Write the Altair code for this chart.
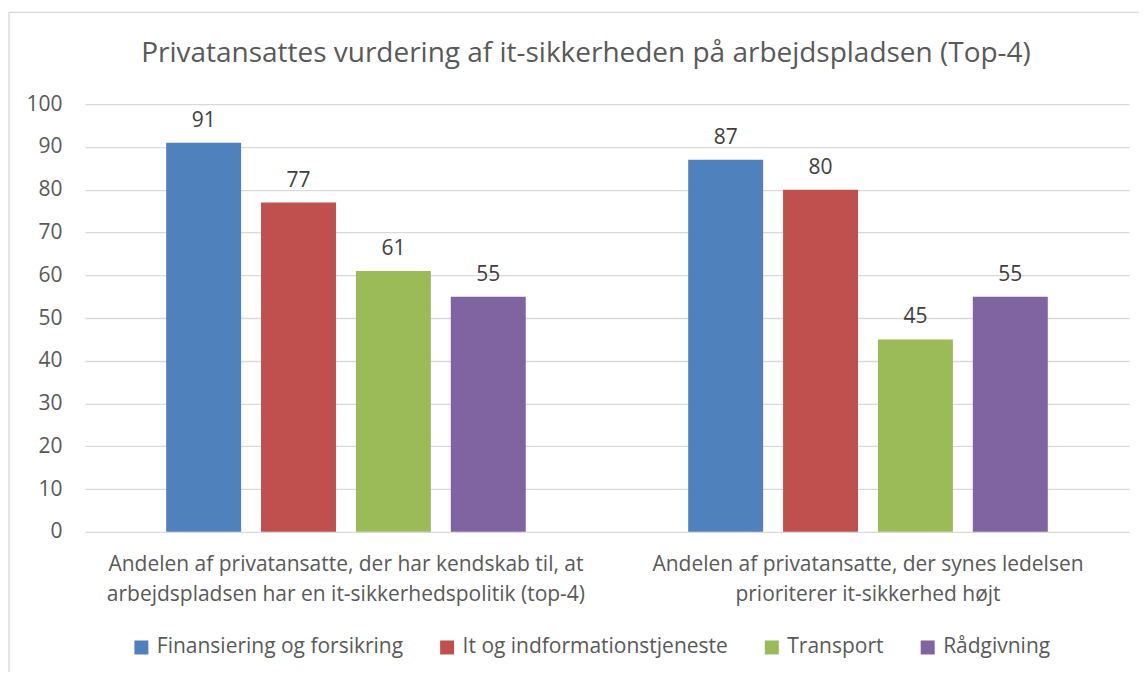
import altair as alt
import pandas as pd

categories = [
    "Andelen af privatansatte, der har kendskab til, at|arbejdspladsen har en it-sikkerhedspolitik (top-4)",
    "Andelen af privatansatte, der synes ledelsen|prioriterer it-sikkerhed højt",
]
series = ["Finansiering og forsikring", "It og indformationstjeneste", "Transport", "Rådgivning"]
values_cat1 = [91, 77, 61, 55]
values_cat2 = [87, 80, 45, 55]
colors = ["#4F81BD", "#C0504D", "#9BBB59", "#8064A2"]
y_ticks = [0, 10, 20, 30, 40, 50, 60, 70, 80, 90, 100]
title_text = ["Privatansattes vurdering af it-sikkerheden på arbejdspladsen (Top-4)"]

rows = []
for s, v in zip(series, values_cat1):
    rows.append({"cat": categories[0], "series": s, "value": v})
for s, v in zip(series, values_cat2):
    rows.append({"cat": categories[1], "series": s, "value": v})
df = pd.DataFrame(rows)

FONT = "Open Sans"
FS = 21
W, H = 1045, 428

x_enc = alt.X("cat:N", sort=categories,
              scale=alt.Scale(paddingInner=0.273, paddingOuter=0.1365),
              axis=alt.Axis(title=None, labelAngle=0, labelExpr="split(datum.label, '|')",
                            labelFontSize=FS, labelColor="#595959", labelFont=FONT,
                            labelLineHeight=30, labelPadding=22, ticks=False, domain=False,
                            labelLimit=700))
xoff = alt.XOffset("series:N", sort=series,
                   scale=alt.Scale(paddingInner=0.21, paddingOuter=0.105))

base = alt.Chart(df)

bars = base.mark_bar().encode(
    x=x_enc,
    xOffset=xoff,
    y=alt.Y("value:Q", scale=alt.Scale(domain=[0, 100], nice=False),
            axis=alt.Axis(title=None, values=y_ticks, grid=True, gridColor="#d9d9d9",
                          gridWidth=1.3, domain=False, ticks=False, labelFontSize=FS,
                          labelColor="#595959", labelFont=FONT, labelPadding=23)),
    color=alt.Color("series:N", sort=series,
                    scale=alt.Scale(domain=series, range=colors),
                    legend=alt.Legend(title=None, orient="none", direction="horizontal",
                                      legendX=46, legendY=533, symbolType="square",
                                      symbolSize=196, symbolStrokeWidth=0,
                                      labelFontSize=FS, labelColor="#595959", labelFont=FONT,
                                      columnPadding=33, labelOffset=5, labelLimit=500)),
)

labels = base.mark_text(baseline="bottom", dy=-12, fontSize=FS, color="#404040", font=FONT).encode(
    x=alt.X("cat:N", sort=categories),
    xOffset=xoff,
    y="value:Q",
    text="value:Q",
)

title = alt.Chart(pd.DataFrame({"t": title_text})).mark_text(
    fontSize=28, font=FONT, color="#595959", align="center", baseline="alphabetic"
).encode(x=alt.value(W / 2 - 21), y=alt.value(-42), text="t:N")

frame = alt.Chart(pd.DataFrame({"a": [0]})).mark_rect(
    fill=None, stroke="#d9d9d9", strokeWidth=1.3
).encode(x=alt.value(-76), x2=alt.value(1080), y=alt.value(-92), y2=alt.value(600))

chart = alt.layer(frame, title, bars, labels).properties(
    width=W, height=H,
    autosize=alt.AutoSizeParams(type="none"),
    padding={"left": 77, "top": 96, "right": 10, "bottom": 140},
).configure_view(stroke=None)

chart.save("out.html", embed_options={"renderer": "svg", "actions": False})
